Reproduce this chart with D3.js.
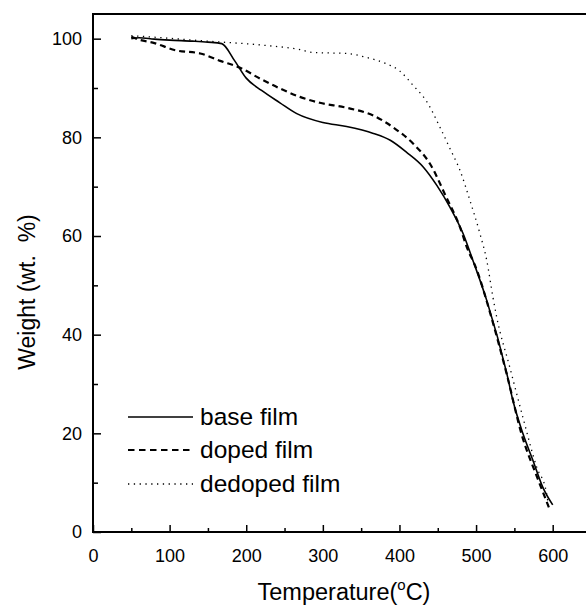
<!DOCTYPE html>
<html><head><meta charset="utf-8">
<script src="https://cdn.jsdelivr.net/npm/d3@7"></script>
<style>body{margin:0;background:#fff}svg{display:block}text{font-family:"Liberation Sans",Arial,sans-serif;fill:#000}</style>
</head><body><svg id="c" width="586" height="607"></svg>
<script>
const xTicks = [0,100,200,300,400,500,600];
const yTicks = [0,20,40,60,80,100];
const seriesNames = ["base film","doped film","dedoped film"];
const baseT = [50,60,80,100,130,150,168,185,200,220,244,266,300,331,366,388,409,431,449,466,483,496,514,540,548,561,574,587,600];
const baseW = [100,100.2,99.9,99.7,99.5,99.3,99,95.5,92,89.5,87,84.8,83,82.2,80.8,79.4,77,74,70.2,65.8,60.5,55,46.9,32.2,26.7,20,14.6,9.1,5.5];
const dopedT = [50,60,78,109,140,166,192,218,244,270,296,331,366,392,418,440,461,479,488,500,520,540,560,580,595];
const dopedW = [100.4,99.8,99.2,97.6,97,95.5,94.1,91.9,89.9,88.2,87,86,84.4,82,78.7,74.6,67.9,61.8,57.7,53.5,43.5,32,19.5,11,5];
const dedopedT = [50,80,140,227,270,287,331,357,383,400,418,435,453,466,479,492,505,514,522,527,544,561,579,592,595];
const dedopedW = [100.6,100.3,99.6,98.6,97.8,97.2,97,96.2,94.9,93.5,90.5,87.4,82,77.7,73.3,67.2,60.5,55,47.6,43.5,33.4,23.3,13.2,7.9,4.5];

const svg = d3.select("#c");
const L=93, R=591, T=14, B=532;
const x = d3.scaleLinear().domain([0,650]).range([L,R]);
const y = d3.scaleLinear().domain([0,105]).range([B,T]);

// frame
svg.append("path").attr("d",`M${L},${B}V${T}H${R}V${B}Z`).attr("fill","none").attr("stroke","#000").attr("stroke-width",2);

// ticks
const gx = svg.append("g").attr("transform",`translate(0,${B})`);
gx.call(d3.axisBottom(x).tickValues(xTicks).tickSizeInner(-7).tickSizeOuter(0).tickPadding(17))
  .call(g=>g.select(".domain").remove())
  .call(g=>g.selectAll("line").attr("stroke-width",1.5))
  .call(g=>g.selectAll("text").attr("font-size",18).attr("font-family","Liberation Sans, Arial"));
gx.append("g").call(d3.axisBottom(x).tickValues(d3.range(50,650,100)).tickSizeInner(-4).tickSizeOuter(0).tickFormat(""))
  .call(g=>g.select(".domain").remove()).call(g=>g.selectAll("line").attr("stroke-width",1.5));

const gy = svg.append("g").attr("transform",`translate(${L},0)`);
gy.call(d3.axisLeft(y).tickValues(yTicks).tickSizeInner(-8).tickSizeOuter(0).tickPadding(11))
  .call(g=>g.select(".domain").remove())
  .call(g=>g.selectAll("line").attr("stroke-width",1.5))
  .call(g=>g.selectAll("text").attr("font-size",18).attr("font-family","Liberation Sans, Arial"));
gy.append("g").call(d3.axisLeft(y).tickValues(d3.range(10,105,20)).tickSizeInner(-5).tickSizeOuter(0).tickFormat(""))
  .call(g=>g.select(".domain").remove()).call(g=>g.selectAll("line").attr("stroke-width",1.5));

// lines
const line = d3.line().x(d=>x(d[0])).y(d=>y(d[1])).curve(d3.curveMonotoneX);
const styles = [
  {dash:null, w:1.6},
  {dash:"6,4", w:2.2},
  {dash:"1.3,4.5", w:1.3}
];
const data = [d3.zip(baseT,baseW), d3.zip(dopedT,dopedW), d3.zip(dedopedT,dedopedW)];
data.forEach((d,i)=>{
  svg.append("path").attr("d",line(d)).attr("fill","none").attr("stroke","#000")
    .attr("stroke-width",styles[i].w).attr("stroke-dasharray",styles[i].dash);
});

// legend
const legY = [417,450,484];
const legDash = [null,"6.5,4.5","1.3,4.5"];
const legW = [1.6,2,1.3];
seriesNames.forEach((n,i)=>{
  svg.append("line").attr("x1",128).attr("x2",193).attr("y1",legY[i]).attr("y2",legY[i])
    .attr("stroke","#000").attr("stroke-width",legW[i]).attr("stroke-dasharray",legDash[i]);
  svg.append("text").attr("x",200).attr("y",legY[i]+8).attr("font-size",24.5).text(n);
});

// axis titles
const xt = svg.append("text").attr("x",344).attr("y",600).attr("text-anchor","middle").attr("font-size",23.5);
xt.append("tspan").text("Temperature(");
xt.append("tspan").attr("font-size",15).attr("dy",-10).text("o");
xt.append("tspan").attr("dy",10).text("C)");
svg.append("text").attr("transform","translate(35,292) rotate(-90)").attr("text-anchor","middle")
  .attr("font-size",23).attr("xml:space","preserve").style("white-space","pre").text("Weight (wt.  %)");
</script></body></html>
